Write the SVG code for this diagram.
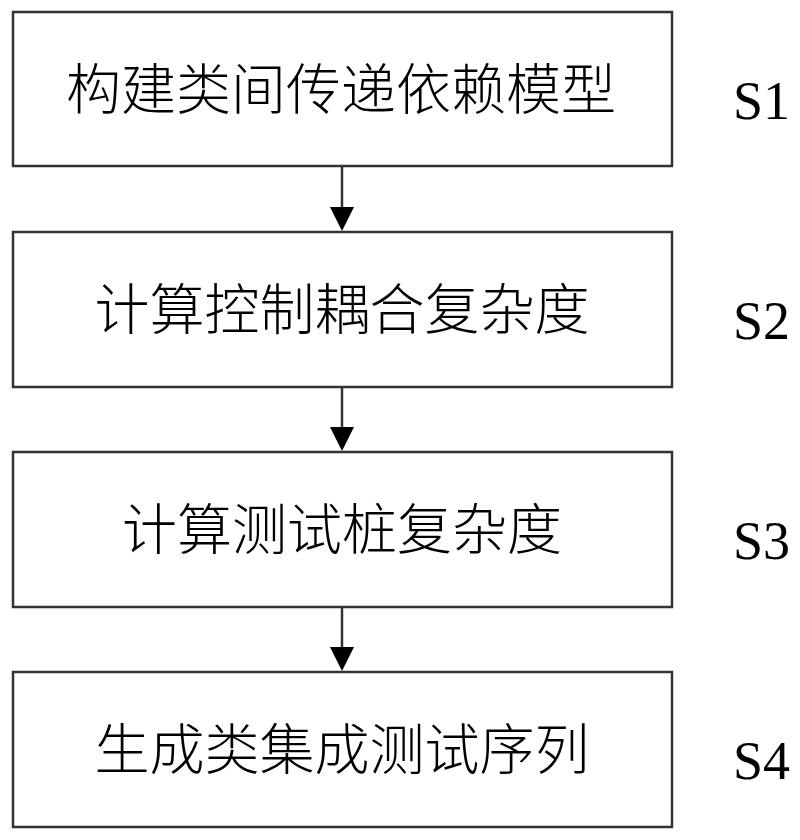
<svg xmlns="http://www.w3.org/2000/svg" width="800" height="840" viewBox="0 0 800 840">
<defs>
<style>
.box{fill:#fff;stroke:#333;stroke-width:2.5}
.lbl{font-family:"Noto Sans CJK SC","Noto Sans CJK JP",sans-serif;font-size:55px;font-weight:300;fill:#000;text-anchor:middle;dominant-baseline:central}
.step{font-family:"Liberation Serif","Times New Roman",serif;font-size:54px;fill:#000}
.con{stroke:#333;stroke-width:2.5;fill:none}
.head{fill:#000}
</style>
</defs>
<rect width="800" height="840" fill="#fff"/>
<g id="connectors">
<line class="con" x1="342" y1="166" x2="342" y2="210"/>
<path class="head" d="M330,207 L354,207 L342,231 Z"/>
<line class="con" x1="342" y1="387" x2="342" y2="430"/>
<path class="head" d="M330,427 L354,427 L342,451 Z"/>
<line class="con" x1="342" y1="607" x2="342" y2="650"/>
<path class="head" d="M330,647 L354,647 L342,671 Z"/>
</g>
<g id="n1">
<rect class="box" x="13" y="12" width="659" height="154"/>
<text class="lbl" x="341" y="85">构建类间传递依赖模型</text>
</g>
<g id="n2">
<rect class="box" x="13" y="232" width="659" height="155"/>
<text class="lbl" x="342" y="305">计算控制耦合复杂度</text>
</g>
<g id="n3">
<rect class="box" x="13" y="452" width="659" height="155"/>
<text class="lbl" x="342" y="525">计算测试桩复杂度</text>
</g>
<g id="n4">
<rect class="box" x="13" y="672" width="659" height="155"/>
<text class="lbl" x="342" y="745">生成类集成测试序列</text>
</g>
<g id="steps">
<text class="step" x="733" y="119">S1</text>
<text class="step" x="733" y="339">S2</text>
<text class="step" x="733" y="559">S3</text>
<text class="step" x="733" y="779">S4</text>
</g>
</svg>
